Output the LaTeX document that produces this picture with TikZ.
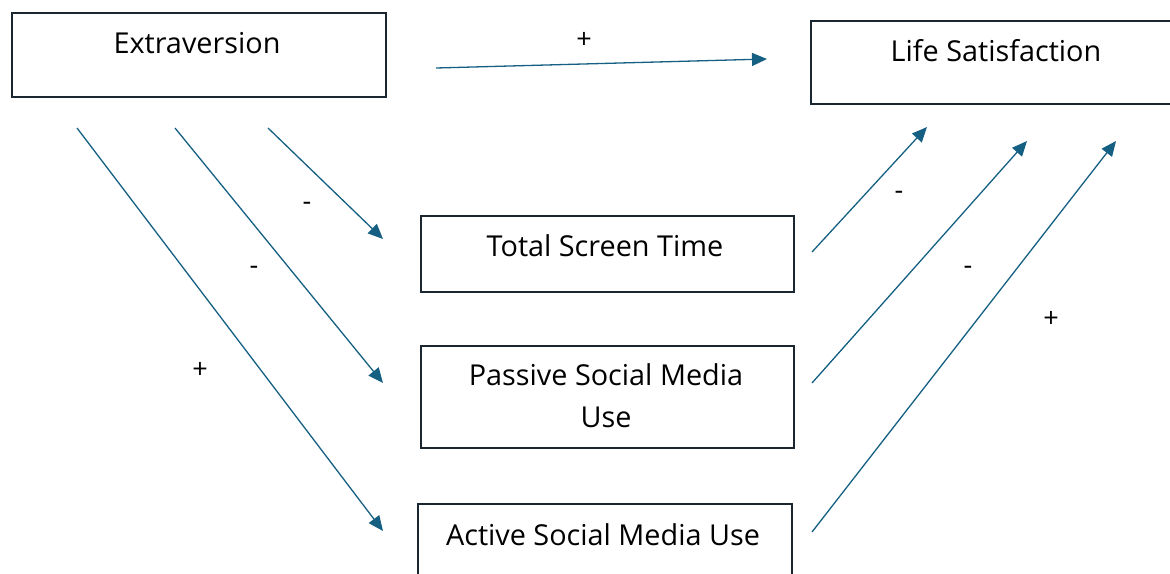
\documentclass[tikz,border=0pt]{standalone}
\usepackage{fontspec}
\setmainfont{Open Sans}
\usetikzlibrary{arrows.meta,calc}
\definecolor{arrowblue}{HTML}{156082}
\definecolor{boxline}{HTML}{1A2630}
\tikzset{
  box/.style={draw=boxline, line width=2pt, rectangle, anchor=north west, inner sep=0pt},
  lab/.style={font=\fontsize{28.8}{42}\selectfont, text=black, inner sep=0pt, align=center},
  sign/.style={font=\fontsize{27}{30}\selectfont, text=black, inner sep=0pt},
  conn/.style={draw=arrowblue, line width=1.3pt, -{Triangle[length=15pt,width=13pt]}, shorten >=0pt}
}
\begin{document}
\begin{tikzpicture}[x=1pt,y=-1pt]
\useasboundingbox (0,0) rectangle (1170,573);
% boxes
\node[box, minimum width=374pt, minimum height=84pt] (ext) at (11,12) {};
\node[box, minimum width=372pt, minimum height=83pt] (life) at (810,20) {};
\node[box, minimum width=373pt, minimum height=76pt] (tst) at (420,215) {};
\node[box, minimum width=373pt, minimum height=102pt] (psm) at (420,345) {};
\node[box, minimum width=374pt, minimum height=80pt] (asm) at (417,503) {};
% texts
\node[lab] (extT) at (197,43) {Extraversion};
\node[lab] (lifeT) at (996,51) {Life Satisfaction};
\node[lab] (tstT) at (605,246) {Total Screen Time};
\node[lab] (psmT) at (606,396) {Passive Social Media\\Use};
\node[lab] (asmT) at (603,535) {Active Social Media Use};
% connector endpoints
\coordinate (a1) at (436,68);  \coordinate (b1) at (767,59);
\coordinate (a2) at (268,128); \coordinate (b2) at (383,239);
\coordinate (a3) at (175,128); \coordinate (b3) at (383,383);
\coordinate (a4) at (77,128);  \coordinate (b4) at (383,531);
\coordinate (a5) at (812,252); \coordinate (b5) at (927,127);
\coordinate (a6) at (812,383); \coordinate (b6) at (1027,141);
\coordinate (a7) at (812,532); \coordinate (b7) at (1116,141);
\draw[conn] (a1) -- (b1);
\draw[conn] (a2) -- (b2);
\draw[conn] (a3) -- (b3);
\draw[conn] (a4) -- (b4);
\draw[conn] (a5) -- (b5);
\draw[conn] (a6) -- (b6);
\draw[conn] (a7) -- (b7);
% signs
\node[sign] (s1) at (584,40) {+};
\node[sign] (s2) at (307,206) {-};
\node[sign] (s3) at (254,270) {-};
\node[sign] (s4) at (200,370) {+};
\node[sign] (s5) at (899,195) {-};
\node[sign] (s6) at (968,270) {-};
\node[sign] (s7) at (1051,319) {+};
\end{tikzpicture}
\end{document}
